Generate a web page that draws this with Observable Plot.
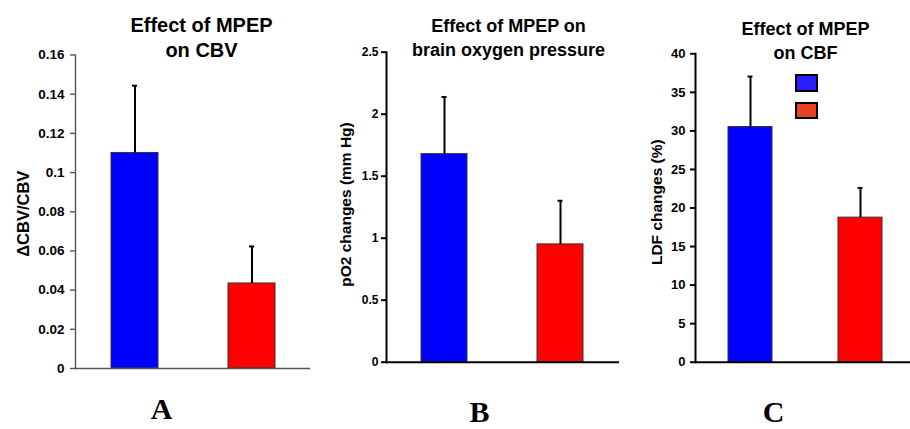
<!DOCTYPE html>
<html><head><meta charset="utf-8">
<script src="https://cdn.jsdelivr.net/npm/d3@7"></script>
<script src="https://cdn.jsdelivr.net/npm/@observablehq/plot@0.6"></script>
<style>
html,body{margin:0;padding:0;background:#fff;overflow:hidden}
#wrap{position:relative;width:910px;height:429px;overflow:hidden;background:#fff}
#wrap svg{position:absolute;top:0}
.sw{position:absolute;box-sizing:border-box;border:2px solid #000}
</style></head><body><div id="wrap"></div>
<script>
const groups = ["Control", "MPEP"];
const barColors = ["#0000FF", "#FF0000"];
const legendColors = ["#2B1DFF", "#E8411F"];
const cbvValues = [0.110, 0.0434];
const cbvErrors = [0.0343, 0.0189];
const po2Values = [1.678, 0.950];
const po2Errors = [0.461, 0.352];
const ldfValues = [30.5, 18.75];
const ldfErrors = [6.55, 3.85];
const cbvTicks = [0, 0.02, 0.04, 0.06, 0.08, 0.1, 0.12, 0.14, 0.16];
const po2Ticks = [0, 0.5, 1, 1.5, 2, 2.5];
const ldfTicks = [0, 5, 10, 15, 20, 25, 30, 35, 40];
const titles = ["Effect of MPEP\non CBV", "Effect of MPEP on\nbrain oxygen pressure", "Effect of MPEP\non CBF"];
const yLabels = ["ΔCBV/CBV", "pO2 changes (mm Hg)", "LDF changes (%)"];
const panelLetters = ["A", "B", "C"];

const wrap = document.getElementById("wrap");
const fmt = d3.format("~g");

function panel(o) {
  const data = groups.map((g, i) => ({group: g, value: o.values[i], top: o.values[i] + o.errors[i]}));
  const plot = Plot.plot({
    width: o.width, height: 429,
    marginTop: o.mt, marginBottom: o.mb, marginLeft: o.ml, marginRight: o.mr,
    style: {fontFamily: "'Liberation Sans', Arial, sans-serif", fontWeight: "bold", color: "#000", background: "transparent", overflow: "visible"},
    x: {domain: groups, paddingInner: 0.6, paddingOuter: 0.3, axis: null},
    y: {domain: [0, o.ticks[o.ticks.length - 1]], axis: null},
    color: {domain: groups, range: barColors},
    marks: [
      Plot.barY(data, {x: "group", y: "value", fill: "group", stroke: "#333", strokeWidth: 1}),
      Plot.ruleX(data, {x: "group", y1: "value", y2: "top", stroke: "#000", strokeWidth: 2}),
      Plot.tickY(data, {x: "group", y: "top", stroke: "#000", strokeWidth: 2, inset: o.capInset}),
      Plot.axisY({ticks: o.ticks, tickFormat: fmt, tickSize: 5, tickPadding: o.tickPad, fontSize: o.tickFont, fontWeight: "bold", stroke: o.axisColor, strokeWidth: o.axisWidth, fill: "#000", label: null}),
      Plot.frame({anchor: "left", stroke: o.axisColor, strokeWidth: o.axisWidth}),
      Plot.ruleY([0], {stroke: o.axisColor, strokeWidth: o.axisWidth}),
      Plot.text([o.title], {text: d => d, frameAnchor: "top", textAnchor: "middle", lineAnchor: "bottom", dx: o.titleDx, dy: o.titleDy, fontSize: o.titleFont, lineHeight: o.titleLH, fontWeight: "bold", fill: "#000"}),
      Plot.text([o.ylabel], {text: d => d, frameAnchor: "left", textAnchor: "middle", lineAnchor: "middle", rotate: -90, dx: o.labelDx, dy: o.labelDy, fontSize: o.labelFont, fontWeight: "bold", fill: "#000"}),
      Plot.text([o.letter], {text: d => d, frameAnchor: "bottom", textAnchor: "middle", lineAnchor: "bottom", dx: o.letterDx, dy: o.letterDy, fontSize: 30, fontWeight: "bold", fontFamily: "'Liberation Serif', 'Times New Roman', serif", fill: "#000"})
    ]
  });
  plot.style.left = o.left + "px";
  wrap.appendChild(plot);
}

panel({values: cbvValues, errors: cbvErrors, ticks: cbvTicks, title: titles[0], ylabel: yLabels[0], letter: panelLetters[0],
  left: 0, width: 312, mt: 54.5, mb: 61, ml: 75, mr: 2, axisColor: "#555", axisWidth: 1.4, tickFont: 13.5, tickPad: 6,
  titleFont: 20, titleDx: 8.5, titleDy: 2, titleLH: 1.25, labelFont: 16.5, labelDx: -52, labelDy: 2, letterDx: -31.5, letterDy: 50, capInset: 21});
panel({values: po2Values, errors: po2Errors, ticks: po2Ticks, title: titles[1], ylabel: yLabels[1], letter: panelLetters[1],
  left: 312, width: 309, mt: 51.7, mb: 67.3, ml: 74, mr: 2, axisColor: "#000", axisWidth: 2, tickFont: 12, tickPad: 3,
  titleFont: 18, titleDx: 5.5, titleDy: 3.3, titleLH: 1.33, labelFont: 15.5, labelDx: -40, labelDy: -2.7, letterDx: -23.5, letterDy: 59.3, capInset: 20.5});
panel({values: ldfValues, errors: ldfErrors, ticks: ldfTicks, title: titles[2], ylabel: yLabels[2], letter: panelLetters[2],
  left: 621, width: 294, mt: 53.3, mb: 67.3, ml: 74, mr: 0, axisColor: "#000", axisWidth: 2, tickFont: 13, tickPad: 5,
  titleFont: 18, titleDx: 0, titleDy: 4.7, titleLH: 1.28, labelFont: 15.5, labelDx: -38.3, labelDy: -5.8, letterDx: -32, letterDy: 59.3, capInset: 19.5});

legendColors.forEach((c, i) => {
  const d = document.createElement("div");
  d.className = "sw";
  d.style.left = "795px";
  d.style.top = (74 + i * 27.7) + "px";
  d.style.width = "22.5px";
  d.style.height = "17.5px";
  d.style.background = c;
  wrap.appendChild(d);
});
</script></body></html>
